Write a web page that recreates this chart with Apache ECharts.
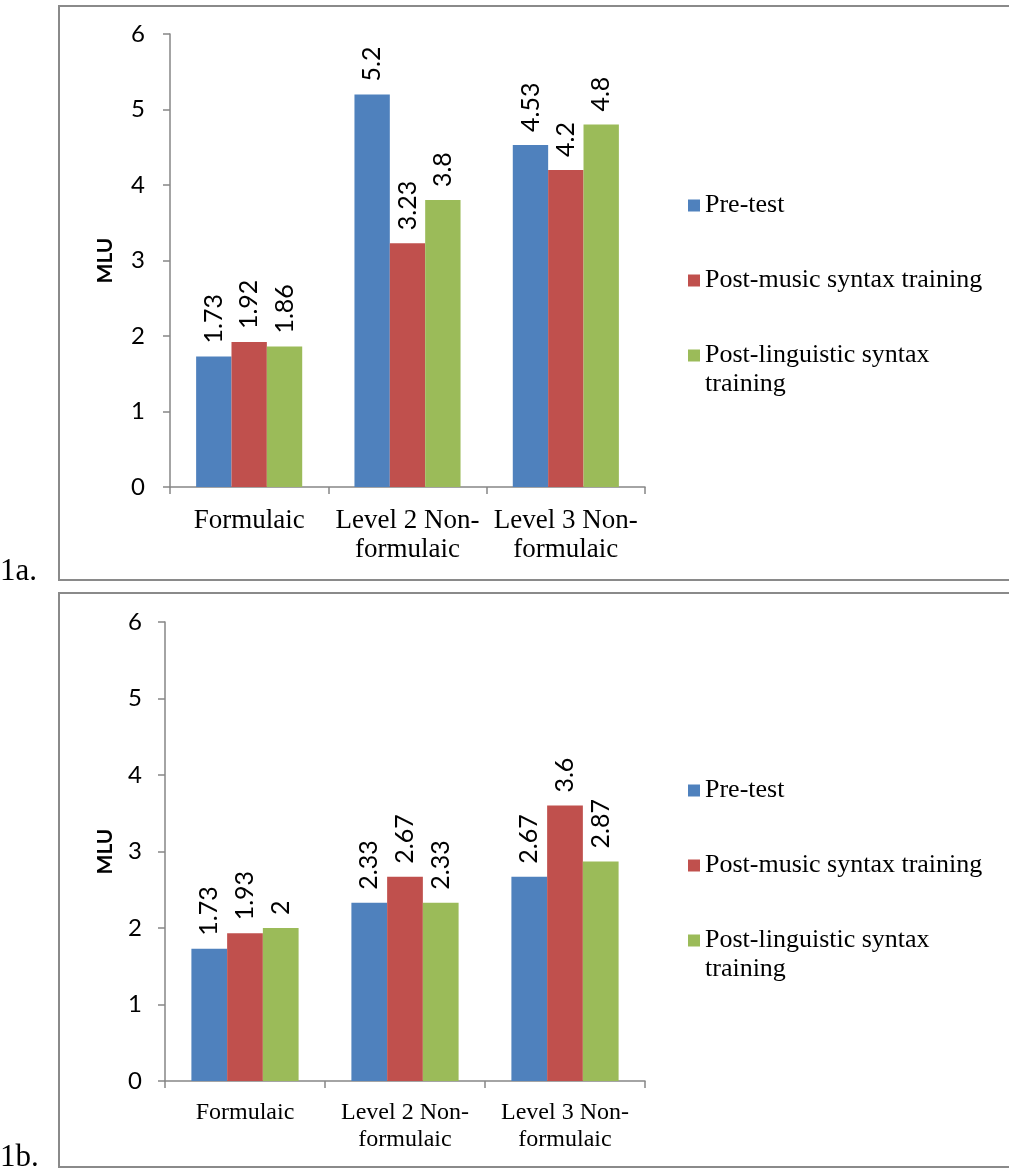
<!DOCTYPE html>
<html>
<head>
<meta charset="utf-8">
<script src="https://cdn.jsdelivr.net/npm/echarts@6/dist/echarts.min.js"></script>
<style>
  html, body { margin: 0; padding: 0; width: 1009px; height: 1171px; overflow: hidden; background: #fff; }
  .box { position: absolute; border: 2px solid #8a8a8a; box-sizing: border-box; }
  .chart { position: absolute; left: 0; width: 1009px; }
</style>
</head>
<body>
<div class="box" style="left:58px; top:5px; width:1000px; height:576px;"></div>
<div class="box" style="left:58px; top:592px; width:1000px; height:576px;"></div>
<div id="c1" class="chart" style="top:0px; height:586px;"></div>
<div id="c2" class="chart" style="top:586px; height:585px;"></div>
<script>
// ---- data ----
const categories = ['Formulaic', 'Level 2 Non-formulaic', 'Level 3 Non-formulaic'];
const seriesNames = ['Pre-test', 'Post-music syntax training', 'Post-linguistic syntax training'];
const colors = ['#4F81BD', '#C0504D', '#9BBB59'];
const yTicks = [0, 1, 2, 3, 4, 5, 6];

const preTest1a = [1.73, 5.2, 4.53];
const postMusic1a = [1.92, 3.23, 4.2];
const postLing1a = [1.86, 3.8, 4.8];

const preTest1b = [1.73, 2.33, 2.67];
const postMusic1b = [1.93, 2.67, 3.6];
const postLing1b = [2, 2.33, 2.87];

const SANS = 'Lato, "Open Sans", "Noto Sans", sans-serif';
const SERIF = '"Liberation Serif", "DejaVu Serif", serif';

function makeOption(cfg) {
  const data = [cfg.pre, cfg.music, cfg.ling];
  const legends = seriesNames.map((n, i) => ({
    data: [n],
    left: 688,
    top: cfg.legendTops[i],
    orient: 'vertical',
    padding: 0,
    itemWidth: 12,
    itemHeight: 12,
    icon: 'rect',
    selectedMode: false,
    formatter: nm => nm === 'Post-linguistic syntax training' ? '\nPost-linguistic syntax\ntraining' : nm,
    textStyle: { fontFamily: SERIF, fontSize: 26, color: '#000', lineHeight: 29 }
  }));
  return {
    animation: false,
    graphic: [{
      type: 'text', left: 0, top: cfg.labelTop,
      style: { text: cfg.label, fontFamily: SERIF, fontSize: 31, fill: '#000' }
    }],
    legend: legends,
    grid: { left: cfg.grid.left, top: cfg.grid.top, width: cfg.grid.width, height: cfg.grid.height, containLabel: false },
    xAxis: {
      type: 'category',
      data: categories,
      axisLine: { lineStyle: { color: '#868686', width: 1.5 } },
      axisTick: { show: true, alignWithLabel: false, length: 7, lineStyle: { color: '#868686', width: 1.5 } },
      axisLabel: {
        color: '#000', fontFamily: SERIF, fontSize: cfg.catFont, lineHeight: cfg.catLine, margin: cfg.catMargin,
        interval: 0,
        formatter: v => v.replace('Non-', 'Non-\n')
      }
    },
    yAxis: {
      type: 'value', min: 0, max: 6, interval: 1,
      name: 'MLU', nameLocation: 'middle', nameGap: cfg.nameGap,
      nameTextStyle: { fontFamily: SANS, fontWeight: 'bold', fontSize: 21, color: '#000' },
      axisLine: { show: true, lineStyle: { color: '#868686', width: 1.5 } },
      axisTick: { show: true, length: 7, lineStyle: { color: '#868686', width: 1.5 } },
      splitLine: { show: false },
      axisLabel: {
        color: '#000', fontFamily: SANS, fontSize: 24, margin: cfg.yMargin,
        formatter: v => yTicks.indexOf(v) >= 0 ? String(v) : ''
      }
    },
    series: seriesNames.map((n, i) => ({
      name: n,
      type: 'bar',
      data: data[i],
      barGap: '0%',
      barCategoryGap: '33%',
      itemStyle: { color: colors[i] },
      label: {
        show: true, position: 'top', rotate: 90, distance: 13,
        align: 'left', verticalAlign: 'middle',
        fontFamily: SANS, fontSize: 25, color: '#000',
        formatter: p => String(p.value)
      }
    }))
  };
}

const c1 = echarts.init(document.getElementById('c1'));
c1.setOption(makeOption({
  pre: preTest1a, music: postMusic1a, ling: postLing1a,
  grid: { left: 170, top: 34, width: 475, height: 453 },
  legendTops: [191, 266, 312],
  catFont: 27, catLine: 29, catMargin: 19,
  nameGap: 54, yMargin: 25,
  label: '1a.', labelTop: 556
}));

const c2 = echarts.init(document.getElementById('c2'));
c2.setOption(makeOption({
  pre: preTest1b, music: postMusic1b, ling: postLing1b,
  grid: { left: 165, top: 36, width: 480, height: 459 },
  legendTops: [190, 265, 311],
  catFont: 24, catLine: 27, catMargin: 18,
  nameGap: 49, yMargin: 23,
  label: '1b.', labelTop: 556
}));
</script>
</body>
</html>
